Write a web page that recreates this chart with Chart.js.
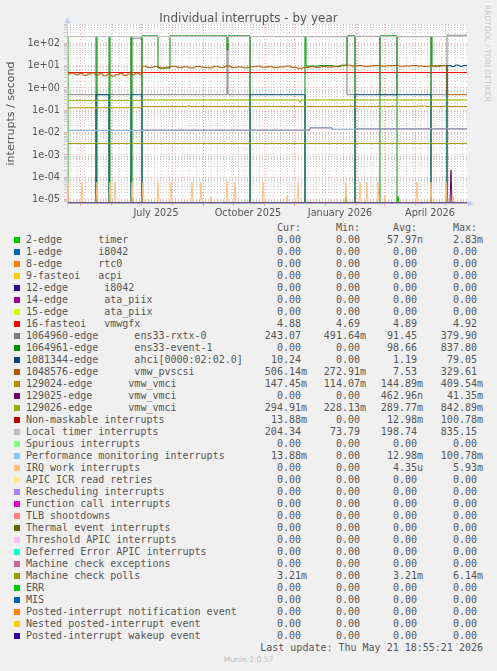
<!DOCTYPE html>
<html>
<head>
<meta charset="utf-8">
<script src="https://cdn.jsdelivr.net/npm/chart.js@4.4.1/dist/chart.umd.min.js"></script>
<style>
body { margin:0; background:#f0f0f0; width:497px; height:671px; overflow:hidden; position:relative; font-family:"DejaVu Sans",sans-serif; }
#wrap { position:absolute; left:0; top:0; width:497px; height:222px; }
#title { position:absolute; left:0; width:497px; top:11px; text-align:center; font-size:12px; line-height:14px; color:#555; }
#rrd { position:absolute; left:483px; top:5px; writing-mode:vertical-rl; font-size:7.5px; color:#c8c8c8; white-space:nowrap; }
.cell { position:absolute; font-family:"DejaVu Sans Mono",monospace; font-size:10px; line-height:12px; height:12px; color:#555; white-space:pre; }
.sw { position:absolute; left:14px; width:6px; height:6px; }
#munin { position:absolute; left:0; width:497px; top:655px; text-align:center; font-size:7.6px; color:#c0c0c0; }
</style>
</head>
<body>
<div id="wrap"><canvas id="chart" width="497" height="222"></canvas></div>
<div id="title">Individual interrupts - by year</div>
<div id="rrd">RRDTOOL / TOBI OETIKER</div>
<div id="legend"></div>
<div id="munin">Munin 2.0.57</div>
<script>
// x = days since 2025-04-18, one pixel per day over 400 days
const yMin = 7.1e-6, yMax = 731;
const monthStartDays = [13, 44, 74, 105, 136, 166, 197, 227, 258, 289, 317, 348, 378];
const quarterLabelDays = [89, 181, 273, 363];
const quarterLabels = ['July 2025', 'October 2025', 'January 2026', 'April 2026'];
const yMajor = [1e2, 1e1, 1e0, 1e-1, 1e-2, 1e-3, 1e-4, 1e-5];
const yMajorLabels = ['1e+02', '1e+01', '1e+00', '1e-01', '1e-02', '1e-03', '1e-04', '1e-05'];

const names = [
  '2-edge      timer', '1-edge      i8042', '8-edge      rtc0', '9-fasteoi   acpi',
  '12-edge      i8042', '14-edge      ata_piix', '15-edge      ata_piix', '16-fasteoi   vmwgfx',
  '1064960-edge      ens33-rxtx-0', '1064961-edge      ens33-event-1', '1081344-edge      ahci[0000:02:02.0]',
  '1048576-edge      vmw_pvscsi', '129024-edge      vmw_vmci', '129025-edge      vmw_vmci', '129026-edge      vmw_vmci',
  'Non-maskable interrupts', 'Local timer interrupts', 'Spurious interrupts', 'Performance monitoring interrupts',
  'IRQ work interrupts', 'APIC ICR read retries', 'Rescheduling interrupts', 'Function call interrupts',
  'TLB shootdowns', 'Thermal event interrupts', 'Threshold APIC interrupts', 'Deferred Error APIC interrupts',
  'Machine check exceptions', 'Machine check polls', 'ERR', 'MIS',
  'Posted-interrupt notification event', 'Nested posted-interrupt event', 'Posted-interrupt wakeup event'
];
const colors = [
  '#00CC00', '#0066B3', '#FF8000', '#FFCC00', '#330099', '#990099', '#CCFF00', '#FF0000',
  '#808080', '#008F00', '#00487D', '#B35A00', '#B38F00', '#6B006B', '#8FB300', '#B30000',
  '#BEBEBE', '#80FF80', '#80C9FF', '#FFC080', '#FFE680', '#AA80FF', '#EE00CC', '#FF8080',
  '#666600', '#FFBFFF', '#00FFCC', '#CC6699', '#999900', '#00CC00', '#0066B3', '#FF8000',
  '#FFCC00', '#330099'
];
const curVals = ['0.00','0.00','0.00','0.00','0.00','0.00','0.00','4.88','243.07','0.00','10.24','506.14m','147.45m','0.00','294.91m','13.88m','204.34','0.00','13.88m','0.00','0.00','0.00','0.00','0.00','0.00','0.00','0.00','0.00','3.21m','0.00','0.00','0.00','0.00','0.00'];
const minVals = ['0.00','0.00','0.00','0.00','0.00','0.00','0.00','4.69','491.64m','0.00','0.00','272.91m','114.07m','0.00','228.13m','0.00','73.79','0.00','0.00','0.00','0.00','0.00','0.00','0.00','0.00','0.00','0.00','0.00','0.00','0.00','0.00','0.00','0.00','0.00'];
const avgVals = ['57.97n','0.00','0.00','0.00','0.00','0.00','0.00','4.89','91.45','98.66','1.19','7.53','144.89m','462.96n','289.77m','12.98m','198.74','0.00','12.98m','4.35u','0.00','0.00','0.00','0.00','0.00','0.00','0.00','0.00','3.21m','0.00','0.00','0.00','0.00','0.00'];
const maxVals = ['2.83m','0.00','0.00','0.00','0.00','0.00','0.00','4.92','379.90','837.80','79.05','329.61','409.54m','41.35m','842.89m','100.78m','835.15','0.00','100.78m','5.93m','0.00','0.00','0.00','0.00','0.00','0.00','0.00','0.00','6.14m','0.00','0.00','0.00','0.00','0.00'];

// step series: [day, value] holds until next point
const flatZero = [[0, 0], [400, 0]];
const vmwgfx = [[0, 4.9], [400, 4.9]];
const rxtx = [[0, 0.5], [64, 170], [75, 0.5], [160, 100], [161, 0.5], [183, 200], [280, 0.5], [288, 205], [313, 0.5], [330, 200], [364, 0.5], [380, 230], [400, 230]];
const event1 = [[0, 200], [1, 0], [29, 200], [30, 0], [42, 200], [43, 0], [64, 200], [65, 0], [75, 215], [91, 7.8], [103, 215],
  [160, 50], [161, 215], [183, 0], [238, 200], [239, 9.5], [252, 10], [266, 9.2], [274, 10.5], [280, 215], [288, 0],
  [313, 215], [330, 0], [364, 200], [365, 9.6], [372, 10.2], [380, 0], [400, 0]];
const ahci = [[0, 0], [29, 0.5], [42, 0], [64, 0.5], [75, 0], [183, 0.5], [238, 0], [288, 0.5], [364, 0], [380, 10],
  [384, 9.2], [388, 10.6], [392, 9.5], [396, 10.2], [400, 10.2]];
const pvscsi = [[0, 4.3], [4, 4.6], [8, 3.9], [12, 4.4], [16, 3.7], [20, 4.2], [24, 4.7], [28, 3.8], [32, 4.3], [36, 3.5],
  [40, 4.1], [44, 3.4], [48, 3.9], [52, 4.5], [56, 3.6], [60, 4.2], [64, 3.9], [68, 4.6], [72, 4.1], [75, 9.5], [80, 8.2],
  [86, 9.0], [92, 7.8], [98, 8.6], [104, 9.3], [110, 8.1], [116, 8.8], [122, 7.9], [128, 9.1], [134, 8.4], [140, 8.0],
  [146, 9.2], [152, 8.3], [158, 9.6], [164, 8.2], [170, 8.7], [176, 8.0], [182, 8.9], [188, 9.4], [194, 8.5], [200, 9.0],
  [206, 8.1], [212, 8.8], [218, 9.5], [224, 8.3], [230, 7.6], [236, 8.2], [242, 9.0], [248, 8.4], [254, 9.2], [260, 8.6],
  [266, 9.4], [272, 9.9], [278, 10.4], [284, 9.6], [290, 10.0], [296, 9.3], [302, 9.8], [308, 10.2], [314, 9.5], [320, 9.9],
  [326, 10.3], [332, 9.4], [338, 9.7], [344, 10.1], [350, 9.6], [356, 9.2], [362, 9.8], [368, 9.4], [374, 9.9], [380, 0.5], [400, 0.5]];
const vmci24 = [[0, 0.13], [75, 0.147], [120, 0.155], [124, 0.147], [200, 0.152], [206, 0.147], [280, 0.152], [285, 0.147],
  [350, 0.155], [360, 0.147], [400, 0.147]];
const vmci26 = [[0, 0.27], [75, 0.29], [232, 0.24], [234, 0.29], [400, 0.29]];
const perfMon = [[0, 0.0126], [75, 0.0128], [238, 0.0132], [243, 0.0165], [265, 0.014], [288, 0.0148], [400, 0.0148]];
const localTimer = [[0, 197], [75, 200], [238, 198], [380, 205], [400, 205]];
const mcPolls = [[0, 0.0033], [400, 0.0033]];

// spike series: peak days and heights
const irqWorkDays = [1, 15, 30, 43, 48, 65, 76, 91, 104, 125, 134, 144, 160, 168, 196, 220, 231, 279, 293, 300, 311, 318, 350, 364, 379, 386];
const irqWorkPeaks = [6e-5, 6e-5, 6e-5, 6e-5, 6e-5, 6e-5, 6e-5, 6e-5, 6e-5, 6e-5, 6e-5, 1.4e-5, 7e-5, 6e-5, 6e-5, 1.5e-5, 6e-5, 6e-5, 6e-5, 6e-5, 6e-5, 1.5e-5, 6e-5, 6e-5, 6e-5, 1.5e-5];
const vmci25Days = [384];
const vmci25Peaks = [2.1e-4];
const timerDays = [279, 331];
const timerPeaks = [1.4e-5, 1.4e-5];

function spikes(days, peaks) {
  const pts = [[0, 0]];
  days.forEach((d, i) => { pts.push([d - 1, 0], [d, peaks[i]], [d + 1, 0]); });
  pts.push([400, 0]);
  return pts;
}

const seriesData = [
  spikes(timerDays, timerPeaks), flatZero, flatZero, flatZero, flatZero, flatZero, flatZero, vmwgfx,
  rxtx, event1, ahci, pvscsi, vmci24, spikes(vmci25Days, vmci25Peaks), vmci26, perfMon,
  localTimer, flatZero, perfMon, spikes(irqWorkDays, irqWorkPeaks), flatZero, flatZero, flatZero, flatZero,
  flatZero, flatZero, flatZero, flatZero, mcPolls, flatZero, flatZero, flatZero, flatZero, flatZero
];
const spikeSeries = [0, 13, 19];

const datasets = seriesData.map((pts, i) => ({
  label: names[i],
  data: pts.map(p => ({ x: p[0], y: p[1] > 0 ? p[1] : yMin })),
  borderColor: colors[i],
  backgroundColor: colors[i],
  borderWidth: 1,
  pointRadius: 0,
  stepped: spikeSeries.includes(i) ? false : true,
  order: -i
}));

// y ticks: decades plus 2..9 minors
const yTicks = [];
yMajor.concat([1e-6]).forEach(m => {
  for (let k = 1; k <= 9; k++) {
    const v = k * m;
    if (v >= yMin && v <= yMax) yTicks.push({ value: v, major: k === 1 });
  }
});
function majorIndex(v) {
  return yMajor.findIndex(m => Math.abs(v / m - 1) < 1e-6);
}

const xTicks = [];
for (let d = 3; d < 400; d += 7) xTicks.push({ value: d, kind: 'week' });
monthStartDays.forEach(d => xTicks.push({ value: d, kind: 'month' }));
quarterLabelDays.forEach(d => xTicks.push({ value: d, kind: 'label' }));
xTicks.sort((a, b) => a.value - b.value);
const xKind = {};
xTicks.forEach(t => { if (xKind[t.value] !== 'month' && xKind[t.value] !== 'label') xKind[t.value] = t.kind; });

const majorGrid = 'rgba(235,110,110,0.5)';
const minorGrid = 'rgba(160,160,160,0.45)';

const axisArrows = {
  id: 'axisArrows',
  afterDatasetsDraw(chart) {
    const ctx = chart.ctx, a = chart.chartArea;
    ctx.save();
    ctx.lineWidth = 1;
    ctx.strokeStyle = '#a4a8ea';
    ctx.beginPath();
    ctx.moveTo(a.left, a.bottom + 0.5);
    ctx.lineTo(a.right + 3, a.bottom + 0.5);
    ctx.stroke();
    ctx.strokeStyle = '#c4ccf6';
    ctx.beginPath();
    ctx.moveTo(a.left + 0.5, a.bottom + 3);
    ctx.lineTo(a.left + 0.5, a.top - 2);
    ctx.stroke();
    ctx.fillStyle = '#c4ccf6';
    ctx.beginPath();
    ctx.moveTo(a.left - 2.5, a.top - 1);
    ctx.lineTo(a.left + 0.5, a.top - 7);
    ctx.lineTo(a.left + 3.5, a.top - 1);
    ctx.closePath();
    ctx.fill();
    ctx.beginPath();
    ctx.moveTo(a.right + 1, a.bottom - 2.5);
    ctx.lineTo(a.right + 7, a.bottom + 0.5);
    ctx.lineTo(a.right + 1, a.bottom + 3.5);
    ctx.closePath();
    ctx.fill();
    ctx.restore();
  }
};

const plotBg = {
  id: 'plotBg',
  beforeDraw(chart) {
    const ctx = chart.ctx, a = chart.chartArea;
    ctx.save();
    ctx.fillStyle = '#ffffff';
    ctx.fillRect(a.left, a.top, a.right - a.left, a.bottom - a.top);
    ctx.restore();
  }
};

Chart.defaults.font.family = 'DejaVu Sans';

new Chart(document.getElementById('chart'), {
  type: 'line',
  data: { datasets: datasets },
  plugins: [plotBg, axisArrows],
  options: {
    responsive: false,
    animation: false,
    events: [],
    layout: { padding: { left: 0, right: 30, top: 24, bottom: 0 } },
    plugins: { legend: { display: false }, tooltip: { enabled: false } },
    scales: {
      x: {
        type: 'linear',
        min: 0,
        max: 400,
        afterBuildTicks: s => { s.ticks = xTicks.map(t => ({ value: t.value })); },
        afterFit: s => { s.height = 19; },
        border: { display: false, dash: [1, 2] },
        grid: {
          color: c => {
            const k = xKind[c.tick.value];
            if (k === 'month') return majorGrid;
            if (k === 'label') return 'rgba(0,0,0,0)';
            return minorGrid;
          },
          tickColor: c => xKind[c.tick.value] === 'month' ? majorGrid : 'rgba(0,0,0,0)',
          tickLength: 3
        },
        ticks: {
          autoSkip: false,
          maxRotation: 0,
          padding: 2,
          color: '#555',
          font: { size: 9.7 },
          callback: v => {
            const i = quarterLabelDays.indexOf(v);
            return i >= 0 ? quarterLabels[i] : '';
          }
        }
      },
      y: {
        type: 'logarithmic',
        min: yMin,
        max: yMax,
        afterBuildTicks: s => { s.ticks = yTicks.map(t => ({ value: t.value })); },
        afterFit: s => { s.width = 67; },
        border: { display: false, dash: [1, 2] },
        title: { display: true, text: 'interrupts / second', color: '#555', font: { size: 11 }, padding: { top: 5, bottom: 0 } },
        grid: {
          color: c => majorIndex(c.tick.value) >= 0 ? majorGrid : minorGrid,
          tickLength: 3
        },
        ticks: {
          autoSkip: false,
          padding: 4,
          color: '#555',
          font: { size: 9.7 },
          callback: v => {
            const i = majorIndex(v);
            return i >= 0 ? yMajorLabels[i] : '';
          }
        }
      }
    }
  }
});

// legend table
const legend = document.getElementById('legend');
const colRight = [307, 366, 423, 483];
function cell(text, top, left, width, align) {
  const d = document.createElement('div');
  d.className = 'cell';
  d.style.top = top + 'px';
  d.style.left = left + 'px';
  if (width) { d.style.width = width + 'px'; d.style.textAlign = align; }
  d.textContent = text;
  legend.appendChild(d);
}
function numText(s) {
  return /[a-z]$/.test(s) ? s : s + '\u00a0';
}
['Cur:', 'Min:', 'Avg:', 'Max:'].forEach((h, j) => cell(h + '\u00a0', 222, 0, colRight[j], 'right'));
names.forEach((n, i) => {
  const top = 234 + 12 * i;
  const sw = document.createElement('div');
  sw.className = 'sw';
  sw.style.top = (top + 3) + 'px';
  sw.style.background = colors[i];
  legend.appendChild(sw);
  cell(n, top, 26);
  [curVals[i], minVals[i], avgVals[i], maxVals[i]].forEach((v, j) => cell(numText(v), top, 0, colRight[j], 'right'));
});
cell('Last update: Thu May 21 18:55:21 2026', 642, 0, 483, 'right');
</script>
</body>
</html>
